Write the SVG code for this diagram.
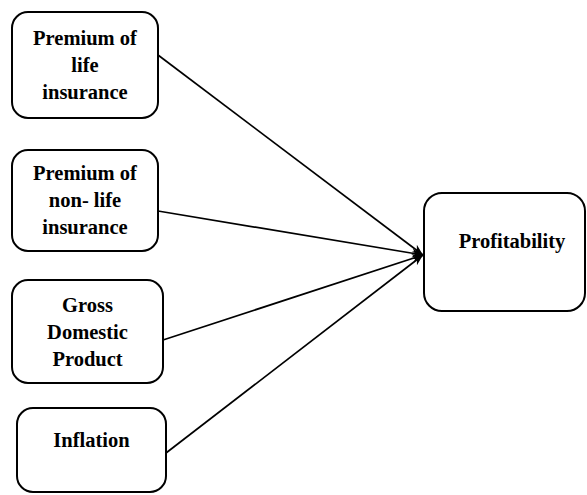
<svg xmlns="http://www.w3.org/2000/svg" width="587" height="495" viewBox="0 0 587 495">
<style>
.box{fill:#fff;stroke:#000;stroke-width:2}
.t{font-family:"Liberation Serif","Times New Roman",serif;font-weight:bold;font-size:20.5px;fill:#000;text-anchor:middle}
.c{stroke:#000;stroke-width:1.7;fill:none}
</style>
<defs>
<marker id="ah" viewBox="0 0 10 10" refX="10" refY="5" markerWidth="11" markerHeight="11" markerUnits="userSpaceOnUse" orient="auto">
<path d="M0,1 L10,5 L0,9 L3,5 Z" fill="#000"/>
</marker>
</defs>
<rect width="587" height="495" fill="#fff"/>
<g id="connectors">
<line class="c" x1="158" y1="55" x2="423" y2="255" marker-end="url(#ah)"/>
<line class="c" x1="158" y1="211" x2="423" y2="255" marker-end="url(#ah)"/>
<line class="c" x1="163" y1="340" x2="423" y2="255" marker-end="url(#ah)"/>
<line class="c" x1="166" y1="453" x2="423" y2="255" marker-end="url(#ah)"/>
</g>
<g id="n1">
<rect class="box" x="12" y="12" width="146" height="106" rx="16"/>
<text class="t" x="85" y="45">Premium of</text>
<text class="t" x="85" y="72">life</text>
<text class="t" x="85" y="99">insurance</text>
</g>
<g id="n2">
<rect class="box" x="12" y="150" width="146" height="101" rx="16"/>
<text class="t" x="85" y="180">Premium of</text>
<text class="t" x="85" y="207">non- life</text>
<text class="t" x="85" y="234">insurance</text>
</g>
<g id="n3">
<rect class="box" x="12" y="280" width="151" height="103" rx="16"/>
<text class="t" x="87.5" y="312">Gross</text>
<text class="t" x="87.5" y="339">Domestic</text>
<text class="t" x="87.5" y="366">Product</text>
</g>
<g id="n4">
<rect class="box" x="17" y="408" width="149" height="84" rx="16"/>
<text class="t" x="91.5" y="447">Inflation</text>
</g>
<g id="n5">
<rect class="box" x="424" y="193" width="161" height="118" rx="18"/>
<text class="t" x="512" y="248">Profitability</text>
</g>
</svg>
